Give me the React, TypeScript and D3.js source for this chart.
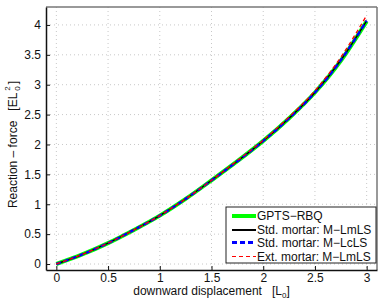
import React, { useEffect, useRef } from 'react';
import * as d3 from 'd3';

// displacement samples [L0]
const disp = [0, 0.25, 0.5, 0.75, 1.0, 1.25, 1.5, 1.75, 2.0, 2.25, 2.5, 2.75, 3.0];
// reaction force [EL0^2]
const gptsRbq = [0, 0.16, 0.35, 0.57, 0.81, 1.09, 1.4, 1.72, 2.06, 2.44, 2.87, 3.4, 4.06];
const stdLmLS = [0, 0.16, 0.35, 0.57, 0.81, 1.09, 1.4, 1.72, 2.06, 2.44, 2.87, 3.41, 4.07];
const stdLcLS = [0, 0.16, 0.35, 0.57, 0.81, 1.09, 1.4, 1.72, 2.06, 2.44, 2.87, 3.41, 4.07];
const extLmLS = [0, 0.16, 0.35, 0.57, 0.81, 1.09, 1.4, 1.73, 2.07, 2.46, 2.9, 3.46, 4.16];

const xTicks = [0, 0.5, 1, 1.5, 2, 2.5, 3];
const yTicks = [0, 0.5, 1, 1.5, 2, 2.5, 3, 3.5, 4];

const seriesList = [
  { name: 'GPTS\u2212RBQ', values: gptsRbq, color: '#00ff00', width: 4, dash: null },
  { name: 'Std. mortar: M\u2212LmLS', values: stdLmLS, color: '#000000', width: 1.5, dash: null },
  { name: 'Std. mortar: M\u2212LcLS', values: stdLcLS, color: '#0000ff', width: 2.5, dash: '5,3' },
  { name: 'Ext. mortar: M\u2212LmLS', values: extLmLS, color: '#ff0000', width: 1.3, dash: '4,3' },
];

const App = () => {
  const svgRef = useRef<SVGSVGElement | null>(null);
  const width = 382;
  const height = 303;

  useEffect(() => {
    const root = d3.select(svgRef.current);
    root.selectAll('*').remove();

    const margin = { top: 7, right: 5, bottom: 33, left: 46 };
    const innerWidth = width - margin.left - margin.right;
    const innerHeight = height - margin.top - margin.bottom;
    const font = 'Liberation Sans, Arial, sans-serif';

    const svg = root.append('g').attr('transform', `translate(${margin.left},${margin.top})`);

    const x = d3.scaleLinear().domain([-0.1, 3.1]).range([0, innerWidth]);
    const y = d3.scaleLinear().domain([-0.1, 4.3]).range([innerHeight, 0]);

    // dotted grid
    const grid = svg.append('g').attr('stroke', '#c8c8c8').attr('stroke-width', 1).attr('stroke-dasharray', '1,3');
    xTicks.forEach(t => {
      grid.append('line').attr('x1', x(t)).attr('x2', x(t)).attr('y1', 0).attr('y2', innerHeight);
    });
    yTicks.forEach(t => {
      grid.append('line').attr('x1', 0).attr('x2', innerWidth).attr('y1', y(t)).attr('y2', y(t));
    });

    // curves
    seriesList.forEach(s => {
      const line = d3.line<number>()
        .x((d, i) => x(disp[i]))
        .y(d => y(d))
        .curve(d3.curveMonotoneX);
      svg.append('path')
        .datum(s.values)
        .attr('fill', 'none')
        .attr('stroke', s.color)
        .attr('stroke-width', s.width)
        .attr('stroke-dasharray', s.dash)
        .attr('d', line);
    });

    // box
    svg.append('line').attr('x1', 0).attr('x2', innerWidth).attr('y1', 0).attr('y2', 0)
      .attr('stroke', '#777').attr('stroke-width', 1.5);
    svg.append('line').attr('x1', innerWidth).attr('x2', innerWidth).attr('y1', 0).attr('y2', innerHeight)
      .attr('stroke', '#777').attr('stroke-width', 1.5);

    // axes (ticks inward)
    const xAxis = svg.append('g').attr('transform', `translate(0,${innerHeight})`)
      .call(d3.axisBottom(x).tickValues(xTicks).tickSize(-4).tickSizeOuter(0).tickPadding(3)
        .tickFormat(d => String(d)));
    const yAxis = svg.append('g')
      .call(d3.axisLeft(y).tickValues(yTicks).tickSize(-4).tickSizeOuter(0).tickPadding(5)
        .tickFormat(d => String(d)));
    [xAxis, yAxis].forEach(a => {
      a.select('.domain').attr('stroke', '#111').attr('stroke-width', 1.5);
      a.selectAll('.tick line').attr('stroke', '#111');
      a.selectAll('text').attr('fill', '#111').style('font-family', font).style('font-size', '12px');
    });

    // x label
    const xl = svg.append('text')
      .attr('x', innerWidth / 2)
      .attr('y', innerHeight + 25)
      .attr('text-anchor', 'middle')
      .attr('fill', '#111')
      .style('white-space', 'pre')
      .style('font-family', font)
      .style('font-size', '12px');
    xl.append('tspan').text('downward displacement   [L');
    xl.append('tspan').attr('dy', 3).style('font-size', '8px').text('0');
    xl.append('tspan').attr('dy', -3).text(']');

    // y label
    const yl = root.append('text')
      .attr('transform', `translate(17,${margin.top + innerHeight / 2 + 6}) rotate(-90)`)
      .attr('text-anchor', 'middle')
      .attr('fill', '#111')
      .style('white-space', 'pre')
      .style('font-family', font)
      .style('font-size', '12px');
    yl.append('tspan').text('Reaction \u2013 force   [EL');
    yl.append('tspan').attr('dx', 2).attr('dy', 3).style('font-size', '8px').text('0');
    yl.append('tspan').attr('dx', -4.5).attr('dy', -10).style('font-size', '8px').text('2');
    yl.append('tspan').attr('dx', 2).attr('dy', 7).text(']');

    // legend
    const lg = root.append('g').attr('transform', 'translate(226,207)');
    lg.append('rect').attr('width', 150).attr('height', 56)
      .attr('fill', '#fff').attr('stroke', '#222').attr('stroke-width', 1);
    seriesList.forEach((s, i) => {
      const cy = Math.round(8 + i * 13.5) + 0.5;
      lg.append('line').attr('x1', 6).attr('x2', 30).attr('y1', cy).attr('y2', cy)
        .attr('stroke', s.color).attr('stroke-width', Math.max(1, Math.round(s.width)))
        .attr('stroke-dasharray', s.dash)
        .attr('shape-rendering', 'crispEdges');
      lg.append('text').attr('x', 31).attr('y', cy + 4)
        .attr('fill', '#111')
        .style('font-family', font).style('font-size', '12px')
        .text(s.name);
    });
  }, []);

  return (
    <svg ref={svgRef} width={width} height={height}
      style={{ position: 'absolute', left: 0, top: 0, background: '#fff' }} />
  );
};

export default App;
